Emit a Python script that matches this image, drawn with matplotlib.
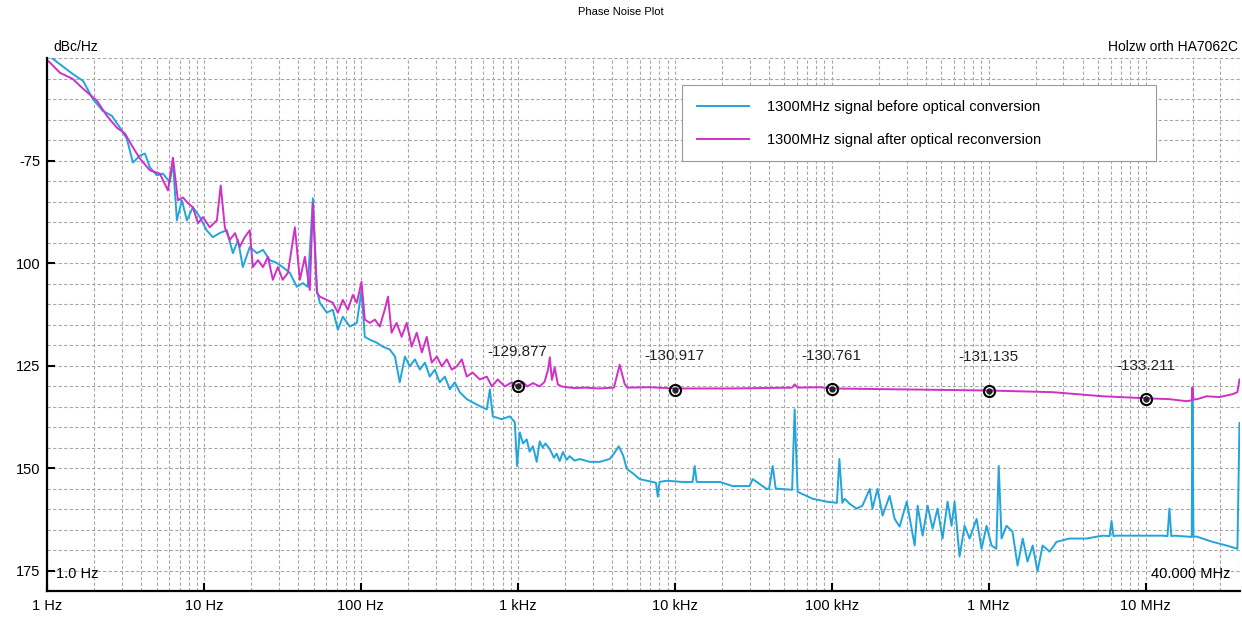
import matplotlib
matplotlib.use("Agg")
import matplotlib.pyplot as plt
from matplotlib.ticker import FixedLocator, NullFormatter, LogLocator

plt.rcParams['font.family'] = ['Liberation Sans', 'DejaVu Sans']

# (offset frequency Hz, phase noise dBc/Hz)
before_pts = [
    (1.0, -48.5), (1.09, -50.2), (1.46, -53.9), (1.70, -55.6), (1.96, -60.0), (2.27, -62.9),
    (2.59, -64.1), (2.92, -67.0), (3.23, -69.7), (3.53, -75.5), (3.91, -73.8), (4.21, -73.3),
    (4.53, -76.7), (5.02, -78.6), (5.48, -78.2), (6.07, -80.3), (6.35, -75.5), (6.73, -89.6),
    (7.24, -84.7), (7.79, -89.6), (8.51, -86.4), (9.43, -88.8), (10.4, -92.0), (11.4, -93.7),
    (12.6, -92.7), (14.0, -92.0), (15.3, -97.6), (16.5, -94.4), (17.7, -101.0), (19.6, -96.1),
    (21.8, -97.6), (23.8, -96.8), (26.3, -99.3), (29.2, -100.0), (31.8, -101.0), (35.3, -102.4),
    (39.1, -105.8), (42.7, -104.9), (45.9, -105.8), (49.5, -84.2), (52.5, -106.6), (54.8, -109.7),
    (60.7, -112.1), (66.3, -111.4), (71.4, -116.3), (76.8, -113.1), (85.1, -115.5), (94.3, -114.6),
    (101, -106.6), (106, -118.0), (114, -118.7), (126, -119.4), (138, -120.4), (153, -121.1),
    (165, -122.8), (177, -129.1), (191, -122.8), (205, -125.2), (221, -123.5), (238, -126.0),
    (256, -124.3), (275, -127.7), (296, -126.0), (318, -129.1), (343, -127.7), (369, -130.8),
    (397, -129.1), (427, -131.5), (473, -133.2), (516, -134.0), (573, -134.9), (635, -135.7),
    (664, -130.8), (693, -137.4), (791, -138.1), (889, -137.4), (957, -138.8), (990, -149.5),
    (1030, -141.3), (1080, -144.0), (1140, -143.0), (1190, -146.0), (1250, -144.7), (1320, -148.5),
    (1380, -143.5), (1440, -145.0), (1500, -144.0), (1600, -145.4), (1700, -147.5), (1770, -146.5),
    (1850, -148.3), (1940, -146.1), (2050, -148.0), (2140, -147.1), (2300, -148.2), (2480, -147.8),
    (2880, -148.5), (3330, -148.5), (3850, -147.8), (4100, -146.5), (4400, -144.7), (4700, -147.0),
    (4950, -150.2), (5500, -151.5), (5980, -152.7), (7240, -153.4), (7600, -153.6), (7800, -157.0),
    (8000, -153.4), (8900, -153.1), (11200, -153.4), (13000, -153.4), (13400, -149.5), (13800, -153.4),
    (19400, -153.4), (23400, -154.4), (30000, -154.4), (31400, -152.7), (38500, -155.1), (40000, -155.0),
    (42100, -149.5), (44000, -155.0), (46700, -155.1), (56000, -155.3), (58100, -135.7), (60700, -155.8),
    (75700, -157.5), (92900, -158.2), (108000, -158.5), (112000, -147.8), (117000, -158.5), (121000, -157.5),
    (130000, -158.7), (144000, -159.9), (157000, -159.2), (175000, -155.1), (182000, -159.9), (196000, -155.1),
    (211000, -161.6), (234000, -156.8), (252000, -162.4), (271000, -164.3), (301000, -158.2), (323000, -164.8),
    (338000, -168.9), (353000, -159.2), (380000, -166.5), (409000, -159.2), (440000, -164.8), (473000, -159.9),
    (509000, -167.2), (548000, -158.2), (581000, -164.1), (607000, -158.2), (653000, -171.6), (703000, -164.1),
    (757000, -167.2), (839000, -162.4), (902000, -169.7), (971000, -164.1), (1.045e6, -168.9), (1.12e6, -169.7),
    (1.16e6, -149.5), (1.21e6, -167.2), (1.30e6, -164.1), (1.42e6, -165.5), (1.53e6, -173.8), (1.65e6, -167.2),
    (1.77e6, -172.8), (1.91e6, -168.9), (2.05e6, -175.2), (2.21e6, -168.9), (2.45e6, -170.4), (2.71e6, -168.0),
    (3.28e6, -167.2), (4.21e6, -167.2), (5.32e6, -166.5), (5.9e6, -166.6), (6.07e6, -162.9), (6.25e6, -166.6),
    (6.53e6, -166.5), (8.77e6, -166.5), (1.11e7, -166.5), (1.28e7, -166.5), (1.38e7, -166.6), (1.42e7, -159.9),
    (1.46e7, -166.6), (1.53e7, -166.5), (1.82e7, -166.7), (1.97e7, -166.8), (1.99e7, -131.0), (2.02e7, -166.8),
    (2.11e7, -166.7), (2.67e7, -168.0), (3.28e7, -168.9), (3.85e7, -169.7), (3.97e7, -139.0), (4.0e7, -139.0),
]

after_pts = [
    (1.0, -50.5), (1.05, -51.2), (1.21, -53.6), (1.46, -55.1), (1.70, -57.5), (2.08, -60.4),
    (2.41, -64.1), (2.79, -67.0), (3.14, -68.4), (3.53, -71.8), (3.91, -74.5), (4.53, -77.4),
    (5.24, -78.2), (5.90, -82.3), (6.35, -74.3), (6.83, -84.7), (7.35, -84.0), (7.91, -85.4),
    (8.51, -86.4), (9.16, -90.3), (9.86, -88.8), (10.9, -91.3), (12.1, -89.6), (12.8, -81.1),
    (13.6, -91.3), (14.6, -94.4), (15.8, -92.7), (16.9, -96.1), (18.2, -93.7), (19.6, -92.0),
    (20.5, -101.0), (22.1, -99.3), (23.8, -101.0), (25.6, -98.5), (27.5, -104.1), (29.6, -101.0),
    (31.8, -104.1), (34.3, -102.4), (38.0, -91.3), (40.9, -104.1), (44.0, -98.5), (47.3, -106.6),
    (49.5, -85.5), (52.5, -107.3), (54.8, -108.2), (60.7, -109.0), (66.3, -109.7), (71.4, -112.1),
    (76.8, -109.0), (82.6, -111.4), (88.9, -107.8), (94.3, -109.7), (101, -104.6), (106, -113.8),
    (114, -114.6), (123, -113.8), (132, -115.5), (142, -111.4), (149, -108.2), (157, -117.0),
    (169, -114.6), (182, -118.0), (196, -114.6), (211, -120.4), (227, -117.0), (245, -121.8),
    (263, -118.0), (283, -124.3), (305, -122.8), (328, -125.2), (353, -123.5), (380, -126.0),
    (409, -125.2), (440, -123.5), (473, -127.7), (516, -126.7), (573, -128.4), (635, -127.7),
    (683, -130.1), (746, -128.4), (826, -130.1), (916, -129.1), (986, -130.1), (1080, -129.1),
    (1150, -130.1), (1250, -129.3), (1380, -130.1), (1480, -129.0), (1560, -126.0), (1600, -123.0),
    (1650, -128.5), (1720, -125.5), (1800, -129.6), (1900, -130.1), (2050, -130.3), (2300, -130.5),
    (2700, -130.4), (3300, -130.6), (4100, -130.4), (4460, -124.8), (4800, -129.5), (5000, -130.4),
    (6930, -130.3), (10000, -130.6), (23400, -130.6), (56000, -130.4), (58100, -129.6), (60700, -130.4),
    (83900, -130.3), (101000, -130.6), (1.01e6, -131.1), (2.56e6, -131.5), (5.32e6, -132.5), (1.01e7, -133.0),
    (1.42e7, -133.2), (1.82e7, -133.7), (1.97e7, -133.5), (1.99e7, -130.3), (2.02e7, -133.3), (2.14e7, -133.2),
    (2.45e7, -132.5), (2.96e7, -132.7), (3.58e7, -132.0), (3.85e7, -131.5), (3.97e7, -128.4),
]

marker_freq = [1e3, 1e4, 1e5, 1e6, 1e7]
marker_dbc = [-129.877, -130.917, -130.761, -131.135, -133.211]

x_ticks = [1, 10, 100, 1e3, 1e4, 1e5, 1e6, 1e7]
x_labels = ["1 Hz", "10 Hz", "100 Hz", "1 kHz", "10 kHz", "100 kHz", "1 MHz", "10 MHz"]
y_ticks = [-75, -100, -125, -150, -175]
y_labels = ["-75", "100", "125", "150", "175"]

blue = "#22a4dc"
magenta = "#d030c8"

before_freq, before_dbc = zip(*before_pts)
after_freq, after_dbc = zip(*after_pts)

fig = plt.figure(figsize=(12.42, 6.19), dpi=100)
ax = fig.add_axes([0.0378, 0.0452, 0.9606, 0.8611])

ax.semilogx(before_freq, before_dbc, color=blue, lw=1.4,
            label="1300MHz signal before optical conversion")
ax.semilogx(after_freq, after_dbc, color=magenta, lw=1.4,
            label="1300MHz signal after optical reconversion")

ax.plot(marker_freq, marker_dbc, "o", ms=8, mfc="none", mec="black", mew=1.5, zorder=5)
ax.plot(marker_freq, marker_dbc, "o", ms=3.5, color="#222222", zorder=6)
for f, v in zip(marker_freq, marker_dbc):
    ax.annotate("%.3f" % v, (f, v), xytext=(0, 19), textcoords="offset points",
                ha="center", va="bottom", fontsize=11, color="#222222")

ax.set_xlim(1, 4e7)
ax.set_ylim(-180, -50)

ax.xaxis.set_major_locator(FixedLocator(x_ticks))
ax.set_xticklabels(x_labels)
ax.xaxis.set_minor_locator(LogLocator(base=10, subs=range(2, 10), numticks=20))
ax.xaxis.set_minor_formatter(NullFormatter())
ax.yaxis.set_major_locator(FixedLocator(y_ticks))
ax.set_yticklabels(y_labels)
ax.yaxis.set_minor_locator(FixedLocator(range(-180, -49, 5)))

ax.grid(which="both", color="#a8a8a8", ls=(0, (3, 2)), lw=0.8)
ax.tick_params(which="major", direction="in", length=6, width=1.5, labelsize=10.5, pad=6)
ax.tick_params(which="minor", length=0)
ax.tick_params(axis="y", pad=5)

for side in ["top", "right"]:
    ax.spines[side].set_visible(False)
for side in ["left", "bottom"]:
    ax.spines[side].set_linewidth(1.6)

ax.text(0.008, 0.018, "1.0 Hz", transform=ax.transAxes, fontsize=10.5, va="bottom")
ax.text(0.992, 0.018, "40.000 MHz", transform=ax.transAxes, fontsize=10.5,
        va="bottom", ha="right")

fig.text(0.5, 0.98, "Phase Noise Plot", ha="center", va="center", fontsize=8)
fig.text(0.043, 0.924, "dBc/Hz", ha="left", va="center", fontsize=10)
fig.text(0.997, 0.924, "Holzw orth HA7062C", ha="right", va="center", fontsize=10)

leg = ax.legend(loc="upper left", bbox_to_anchor=(0.5264, 0.9625, 0.409, 0.0),
                mode="expand", fontsize=10.5, handlelength=3.6, labelspacing=1.3,
                borderpad=1.0, handletextpad=1.2, fancybox=False, framealpha=1)
leg.get_frame().set_edgecolor("#999999")
leg.get_frame().set_linewidth(0.8)

fig.savefig("out.png", dpi=100)
